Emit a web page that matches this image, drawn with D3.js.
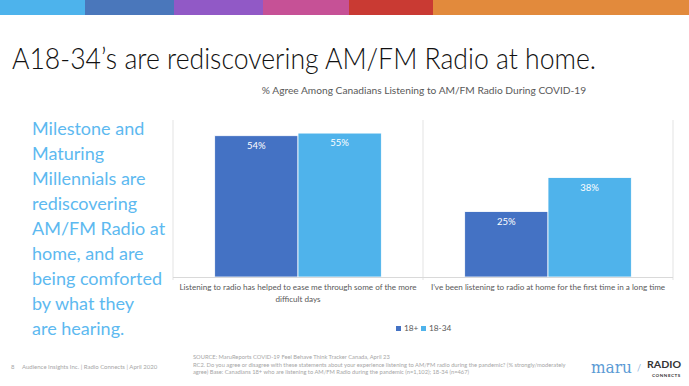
<!DOCTYPE html>
<html>
<head>
<meta charset="utf-8">
<script src="https://cdn.jsdelivr.net/npm/d3@7"></script>
<style>
  body { margin: 0; background: #fff; }
  svg { display: block; font-family: Lato, "Open Sans", sans-serif; }
</style>
</head>
<body>
<svg width="689" height="386"></svg>
<script>
// chart data
const categories = [
  "Listening to radio has helped to ease me through some of the more difficult days",
  "I\u2019ve been listening to radio at home for the first time in a long time"
];
const seriesNames = ["18+", "18-34"];
const agree18plus = [54, 25];
const agree18to34 = [55, 38];
const yMax = 60;

const bandColors = ["#4DB3EC", "#4A77BB", "#9159C6", "#C65196", "#C93A33", "#E28A3C"];
const bandEdges = [0, 85, 174, 263, 349, 433, 689];
const seriesColors = ["#4472C4", "#4FB3EB"];

const sideText = ["Milestone and", "Maturing", "Millennials are", "rediscovering",
  "AM/FM Radio at", "home, and are", "being comforted", "by what they", "are hearing."];
const sourceLines = [
  "SOURCE: MaruReports COVID-19 Feel Behave Think Tracker Canada, April 23",
  "RC2. Do you agree or disagree with these statements about your experience listening to AM/FM radio during the pandemic? (% strongly/moderately",
  "agree) Base: Canadians 18+ who are listening to AM/FM Radio during the pandemic (n=1,102); 18-34 (n=467)"
];

const svg = d3.select('svg');

// colour strip on top
svg.selectAll('.strip').data(bandColors).enter()
  .append('rect')
  .attr('class', 'strip')
  .attr('x', (d, i) => bandEdges[i])
  .attr('y', 0)
  .attr('width', (d, i) => bandEdges[i + 1] - bandEdges[i])
  .attr('height', 15)
  .attr('fill', d => d);

// title
svg.append('text')
  .attr('x', 12).attr('y', 69)
  .attr('font-size', 30)
  .attr('font-weight', 300)
  .attr('fill', '#111')
  .attr('textLength', 584)
  .attr('lengthAdjust', 'spacingAndGlyphs')
  .text("A18-34\u2019s are rediscovering AM/FM Radio at home.");

// side paragraph
svg.append('g').selectAll('text').data(sideText).enter()
  .append('text')
  .attr('x', 32)
  .attr('y', (d, i) => 135 + i * 25)
  .attr('font-size', 18)
  .attr('fill', '#5DB9F0')
  .text(d => d);

// chart
const plotL = 173, plotR = 673, plotT = 120, plotB = 277;
const x0 = d3.scaleBand().domain(categories).range([plotL, plotR]);
const x1 = d3.scaleBand().domain(seriesNames).range([0, x0.bandwidth()]).paddingOuter(0.5);
const y = d3.scaleLinear().domain([0, yMax]).range([plotB, plotT]);
const color = d3.scaleOrdinal().domain(seriesNames).range(seriesColors);

svg.append('text')
  .attr('x', 424).attr('y', 94)
  .attr('text-anchor', 'middle')
  .attr('font-size', 10.2)
  .attr('fill', '#595959')
  .text("% Agree Among Canadians Listening to AM/FM Radio During COVID-19");

// category separators
const seps = [plotL].concat(categories.map(c => x0(c) + x0.bandwidth()));
svg.append('g').selectAll('line').data(seps).enter()
  .append('line')
  .attr('x1', d => d).attr('x2', d => d)
  .attr('y1', plotT).attr('y2', plotB + 3)
  .attr('stroke', '#E3E3E3');

const rows = categories.map((c, i) => ({
  cat: c,
  vals: [{ s: seriesNames[0], v: agree18plus[i] }, { s: seriesNames[1], v: agree18to34[i] }]
}));

const groups = svg.append('g').selectAll('g').data(rows).enter()
  .append('g')
  .attr('transform', d => 'translate(' + x0(d.cat) + ',0)');

groups.selectAll('rect').data(d => d.vals).enter()
  .append('rect')
  .attr('x', d => x1(d.s))
  .attr('y', d => y(d.v))
  .attr('width', x1.bandwidth())
  .attr('height', d => y(0) - y(d.v))
  .attr('fill', d => color(d.s))
  .attr('stroke', '#fff')
  .attr('stroke-width', 0.8);

groups.selectAll('.lbl').data(d => d.vals).enter()
  .append('text')
  .attr('class', 'lbl')
  .attr('x', d => x1(d.s) + x1.bandwidth() / 2)
  .attr('y', d => y(d.v) + 13)
  .attr('text-anchor', 'middle')
  .attr('font-size', 9.5)
  .attr('fill', '#fff')
  .text(d => d.v + '%');

// baseline
svg.append('line')
  .attr('x1', plotL).attr('x2', plotR)
  .attr('y1', plotB + 0.5).attr('y2', plotB + 0.5)
  .attr('stroke', '#D9D9D9');

// category labels, wrapped
var wrap = function(sel, w) {
  sel.each(function(d) {
    const t = d3.select(this);
    const words = d.split(' ');
    let line = [], tspan = t.append('tspan').attr('x', t.attr('x')).attr('dy', 0);
    words.forEach(function(word) {
      line.push(word);
      tspan.text(line.join(' '));
      if (tspan.node().getComputedTextLength() > w && line.length > 1) {
        line.pop();
        tspan.text(line.join(' '));
        line = [word];
        tspan = t.append('tspan').attr('x', t.attr('x')).attr('dy', 12).text(word);
      }
    });
  });
};

svg.append('g').selectAll('text').data(categories).enter()
  .append('text')
  .attr('x', d => x0(d) + x0.bandwidth() / 2)
  .attr('y', 290)
  .attr('text-anchor', 'middle')
  .attr('font-size', 8.1)
  .attr('fill', '#595959')
  .call(wrap, 246);

// legend
const legend = svg.append('g').selectAll('g').data(seriesNames).enter()
  .append('g')
  .attr('transform', (d, i) => 'translate(' + (396 + i * 25) + ',331)');
legend.append('rect')
  .attr('x', 0).attr('y', -5)
  .attr('width', 5).attr('height', 5)
  .attr('fill', d => color(d));
legend.append('text')
  .attr('x', 8).attr('y', 0)
  .attr('font-size', 8.3)
  .attr('fill', '#595959')
  .text(d => d);

// footer
svg.append('text')
  .attr('x', 11).attr('y', 369)
  .attr('font-size', 6).attr('fill', '#A6A6A6')
  .attr('xml:space', 'preserve')
  .text("8     Audience Insights Inc. | Radio Connects | April 2020");

svg.append('g').selectAll('text').data(sourceLines).enter()
  .append('text')
  .attr('x', 193)
  .attr('y', (d, i) => 359 + i * 7.5)
  .attr('font-size', 5.75)
  .attr('fill', '#A6A6A6')
  .text(d => d);

// logo
svg.append('text')
  .attr('x', 591).attr('y', 373)
  .attr('font-family', '"DejaVu Serif", serif')
  .attr('font-size', 17)
  .attr('fill', '#5B9BD5')
  .attr('textLength', 41)
  .attr('lengthAdjust', 'spacingAndGlyphs')
  .text('maru');
svg.append('text')
  .attr('x', 637).attr('y', 371)
  .attr('font-size', 9)
  .attr('fill', '#8FB4DC')
  .text('/');
svg.append('text')
  .attr('x', 647).attr('y', 368)
  .attr('font-size', 10)
  .attr('font-weight', 'bold')
  .attr('fill', '#333')
  .attr('textLength', 34)
  .attr('lengthAdjust', 'spacingAndGlyphs')
  .text('RADIO');
svg.append('text')
  .attr('x', 652).attr('y', 377)
  .attr('font-size', 4.5)
  .attr('font-weight', 'bold')
  .attr('fill', '#333')
  .attr('letter-spacing', 0.6)
  .text('CONNECTS');
</script>
</body>
</html>
